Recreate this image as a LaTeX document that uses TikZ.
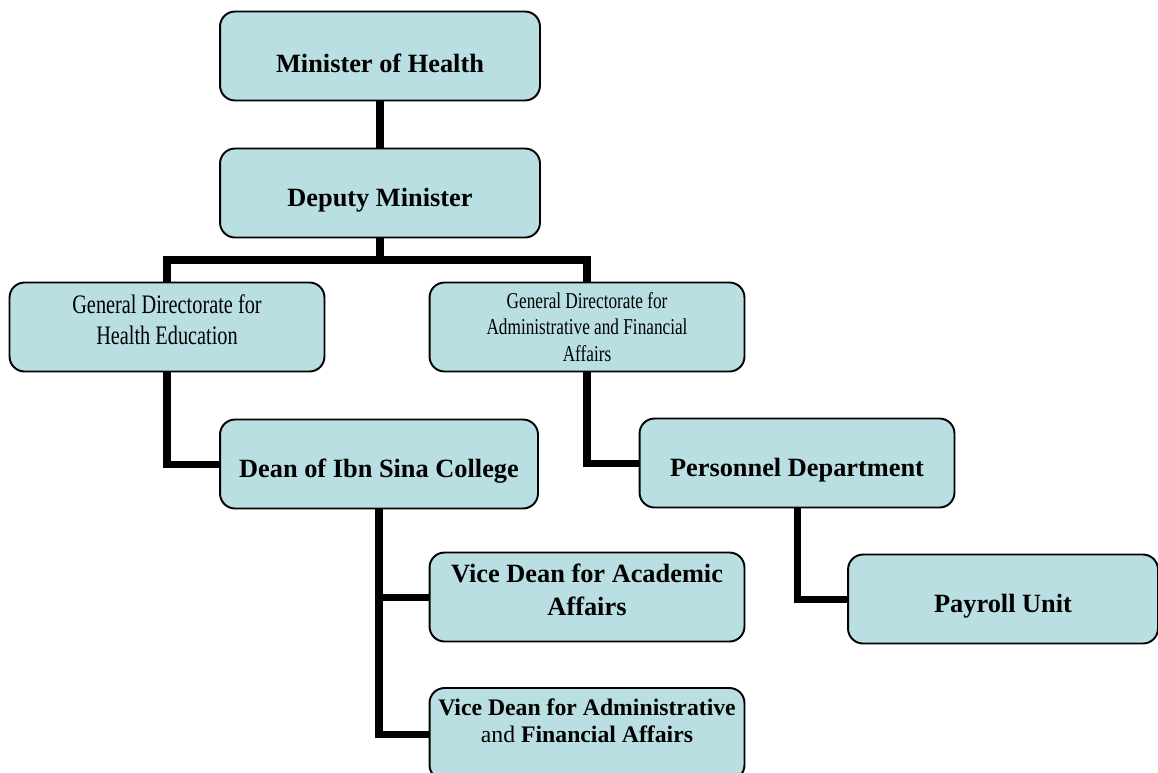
\documentclass[tikz,border=0pt]{standalone}
\usepackage{fontspec}
\setmainfont{Liberation Serif}
\newfontfamily\narrowfont[FakeStretch=0.76]{Liberation Serif}
\definecolor{boxfill}{HTML}{B9DFE2}

\begin{document}
\begin{tikzpicture}[x=0.02cm, y=-0.02cm,
    box/.style={draw, line width=1.1pt, rounded corners=0.3cm, fill=boxfill,
      minimum width=6.3cm, minimum height=1.78cm, align=center,
      font=\fontsize{15}{19}\selectfont\bfseries},
    oneline/.style={text height=0.66cm},
    conn/.style={line width=4pt}]
  \useasboundingbox (0,0) rectangle (1158,772);
  \node [box, oneline, minimum width=6.4cm] (minister) at (380,56) {Minister of Health};
  \node [box, oneline, minimum width=6.4cm] (deputy) at (380,193) {Deputy Minister};
  \node [box, text depth=0.3cm, font=\narrowfont\fontsize{15.2}{18}\selectfont] (gdhealth) at (167,327) {General Directorate for\\Health Education};
  \node [box, font=\narrowfont\fontsize{12.9}{15.3}\selectfont] (gdadmin) at (587,327) {General Directorate for\\Administrative and Financial\\Affairs};
  \node [box, oneline, minimum width=6.36cm] (dean) at (379,464) {Dean of Ibn Sina College};
  \node [box, oneline] (personnel) at (797,463) {Personnel Department};
  \node [box, text depth=0.3cm] (vdacademic) at (587,597) {Vice Dean for Academic\\Affairs};
  \node [box, minimum height=1.84cm, text depth=0.55cm, font=\fontsize{13.5}{15.5}\selectfont\bfseries] (vdadmin) at (587,734) {Vice Dean for Administrative\\{\mdseries and} Financial Affairs};
  \node [box, oneline, minimum width=6.2cm] (payroll) at (1003,599) {Payroll Unit};
  % links
  \coordinate (bus) at (380,260);
  \draw [conn] (minister) -- (deputy);
  \draw [conn] (deputy.south) -- (bus);
  \draw [conn] (bus) -| (gdhealth.north);
  \draw [conn] (bus) -| (gdadmin.north);
  \draw [conn] (gdhealth.south) |- (dean.west);
  \draw [conn] (gdadmin.south) |- (personnel.west);
  \draw [conn] (dean.south) |- (vdacademic.west);
  \draw [conn] (dean.south) |- (vdadmin.west);
  \draw [conn] (personnel.south) |- (payroll.west);
\end{tikzpicture}
\end{document}
